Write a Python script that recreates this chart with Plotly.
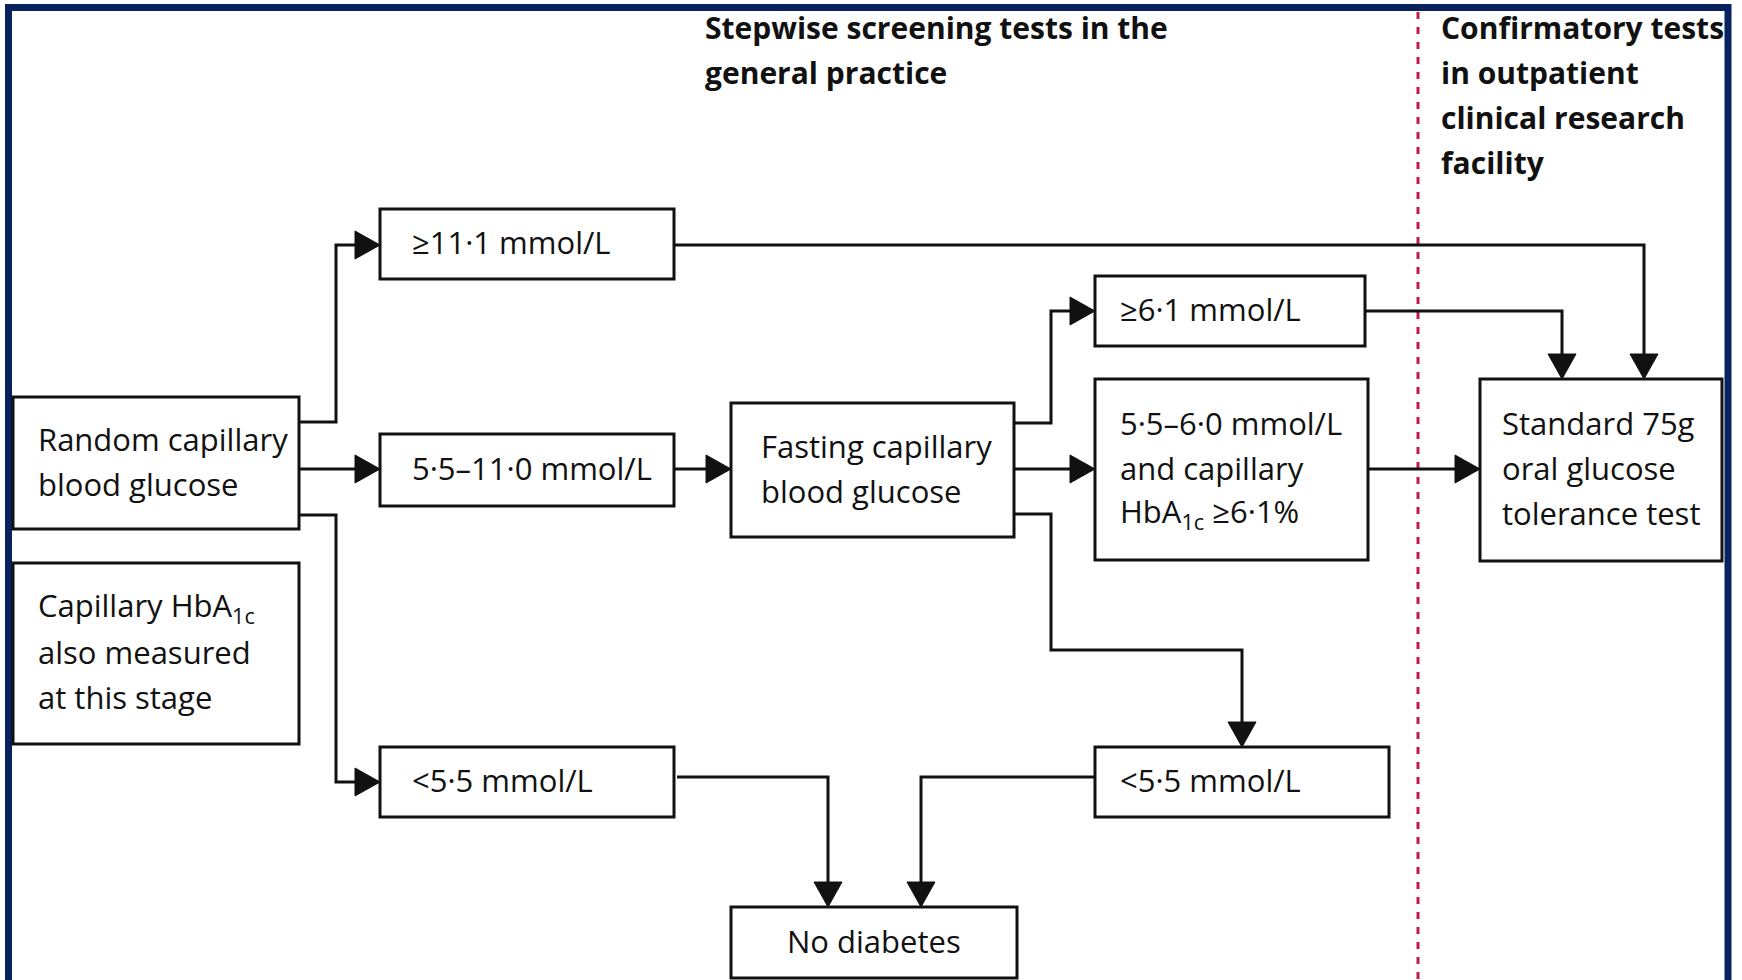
import plotly.graph_objects as go

# ---------------- content ----------------
node_ids = ["random", "hba1c_note", "ge111", "mid_rbg", "low_rbg", "fasting",
            "ge61", "mid_fbg", "low_fbg", "no_diab", "ogtt"]

node_text = {
    "random": ["Random capillary", "blood glucose"],
    "hba1c_note": ["Capillary HbA<sub>1c</sub>", "also measured", "at this stage"],
    "ge111": ["≥11·1 mmol/L"],
    "mid_rbg": ["5·5–11·0 mmol/L"],
    "low_rbg": ["<5·5 mmol/L"],
    "fasting": ["Fasting capillary", "blood glucose"],
    "ge61": ["≥6·1 mmol/L"],
    "mid_fbg": ["5·5–6·0 mmol/L", "and capillary", "HbA<sub>1c</sub> ≥6·1%"],
    "low_fbg": ["<5·5 mmol/L"],
    "no_diab": ["No diabetes"],
    "ogtt": ["Standard 75g", "oral glucose", "tolerance test"],
}

header_left = ["Stepwise screening tests in the", "general practice"]
header_right = ["Confirmatory tests", "in outpatient", "clinical research", "facility"]

edges = [("random", "ge111"), ("random", "mid_rbg"), ("random", "low_rbg"),
         ("mid_rbg", "fasting"), ("ge111", "ogtt"), ("fasting", "ge61"),
         ("fasting", "mid_fbg"), ("fasting", "low_fbg"), ("ge61", "ogtt"),
         ("mid_fbg", "ogtt"), ("low_rbg", "no_diab"), ("low_fbg", "no_diab")]

# ---------------- layout (pixel geometry) ----------------
W, H = 1742, 980
box = {  # x0, x1, y0, y1, text_x, align
    "random":     (13, 299, 397, 529, 36, "left"),
    "hba1c_note": (13, 299, 563, 744, 36, "left"),
    "ge111":      (380, 674, 209, 279, 410, "left"),
    "mid_rbg":    (380, 674, 434, 506, 410, "left"),
    "low_rbg":    (380, 674, 747, 817, 410, "left"),
    "fasting":    (731, 1014, 403, 537, 759, "left"),
    "ge61":       (1095, 1365, 276, 346, 1118, "left"),
    "mid_fbg":    (1095, 1368, 379, 560, 1118, "left"),
    "low_fbg":    (1095, 1389, 747, 817, 1118, "left"),
    "no_diab":    (731, 1017, 907, 978, 874, "center"),
    "ogtt":       (1480, 1722, 379, 561, 1500, "left"),
}
routes = {  # waypoints; last point is arrow tip, then direction
    ("random", "ge111"):    ([(299, 422), (336, 422), (336, 245), (380, 245)], "right"),
    ("random", "mid_rbg"):  ([(299, 469), (380, 469)], "right"),
    ("random", "low_rbg"):  ([(299, 515), (336, 515), (336, 782), (380, 782)], "right"),
    ("mid_rbg", "fasting"): ([(674, 469), (731, 469)], "right"),
    ("ge111", "ogtt"):      ([(674, 245), (1644, 245), (1644, 379)], "down"),
    ("fasting", "ge61"):    ([(1014, 423), (1051, 423), (1051, 311), (1095, 311)], "right"),
    ("fasting", "mid_fbg"): ([(1014, 469), (1095, 469)], "right"),
    ("fasting", "low_fbg"): ([(1014, 514), (1051, 514), (1051, 650), (1242, 650), (1242, 747)], "down"),
    ("ge61", "ogtt"):       ([(1365, 311), (1562, 311), (1562, 379)], "down"),
    ("mid_fbg", "ogtt"):    ([(1368, 469), (1480, 469)], "right"),
    ("low_rbg", "no_diab"): ([(677, 777), (828, 777), (828, 907)], "down"),
    ("low_fbg", "no_diab"): ([(1095, 777), (921, 777), (921, 907)], "down"),
}

INK = "#111111"
NAVY = "#0a2160"
RED = "#c21a44"
FONT = "Open Sans"
LINE_GAP = 45
ARW_L, ARW_W = 25, 14

shapes = []
annotations = []

# outer navy frame
shapes.append(dict(type="rect", x0=8.5, x1=1728, y0=7.5, y1=1010,
                   line=dict(color=NAVY, width=7), fillcolor="rgba(0,0,0,0)", layer="above"))
# dashed divider
shapes.append(dict(type="line", x0=1418, x1=1418, y0=12, y1=985,
                   line=dict(color=RED, width=3, dash="7px,8px")))

# connectors
for e in edges:
    pts, direction = routes[e]
    tx, ty = pts[-1]
    if direction == "right":
        end = (tx - ARW_L + 2, ty)
        head = f"M{tx},{ty} L{tx-ARW_L},{ty-ARW_W} L{tx-ARW_L},{ty+ARW_W} Z"
    else:
        end = (tx, ty - ARW_L + 2)
        head = f"M{tx},{ty} L{tx-ARW_W},{ty-ARW_L} L{tx+ARW_W},{ty-ARW_L} Z"
    p = pts[:-1] + [end]
    path = "M" + " L".join(f"{x},{y}" for x, y in p)
    shapes.append(dict(type="path", path=path, line=dict(color=INK, width=3)))
    shapes.append(dict(type="path", path=head, fillcolor=INK, line=dict(color=INK, width=1)))

# boxes and texts
for nid in node_ids:
    x0, x1, y0, y1, tx, align = box[nid]
    shapes.append(dict(type="rect", x0=x0, x1=x1, y0=y0, y1=y1,
                       line=dict(color=INK, width=3), fillcolor="white"))
    lines = node_text[nid]
    cy = (y0 + y1) / 2 - 2
    n = len(lines)
    for i, t in enumerate(lines):
        y = cy + (i - (n - 1) / 2) * LINE_GAP
        annotations.append(dict(x=tx, y=y, text=t, showarrow=False,
                                xanchor=align, yanchor="middle",
                                font=dict(family=FONT, size=31, color=INK)))

# headers
for i, t in enumerate(header_left):
    annotations.append(dict(x=703, y=27 + i * 45, text=f"<b>{t}</b>", showarrow=False,
                            xanchor="left", yanchor="middle",
                            font=dict(family=FONT, size=30, color=INK)))
for i, t in enumerate(header_right):
    annotations.append(dict(x=1439, y=27 + i * 45, text=f"<b>{t}</b>", showarrow=False,
                            xanchor="left", yanchor="middle",
                            font=dict(family=FONT, size=30, color=INK)))

fig = go.Figure()
fig.update_layout(
    width=W, height=H,
    margin=dict(l=0, r=0, t=0, b=0),
    paper_bgcolor="white", plot_bgcolor="white",
    xaxis=dict(range=[0, W], visible=False, fixedrange=True),
    yaxis=dict(range=[H, 0], visible=False, fixedrange=True),
    shapes=shapes, annotations=annotations, showlegend=False,
)
fig.write_html("out.html", config={"displayModeBar": False},
               post_script="document.body.style.margin='0';document.body.style.overflow='hidden';")
